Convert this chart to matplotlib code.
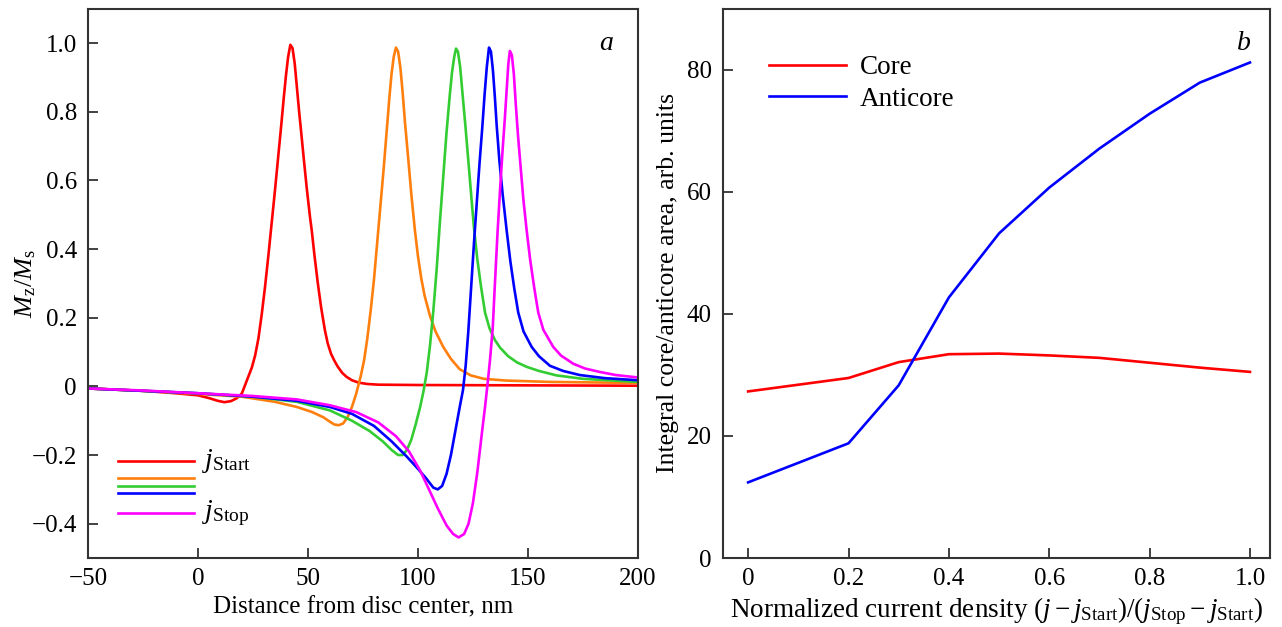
import matplotlib
matplotlib.use("Agg")
import matplotlib.pyplot as plt

plt.rcParams['font.family'] = ['Liberation Serif', 'DejaVu Serif']
plt.rcParams['mathtext.fontset'] = 'custom'
plt.rcParams['mathtext.rm'] = 'Liberation Serif'
plt.rcParams['mathtext.it'] = 'Liberation Serif:italic'

# ---- panel a: Mz/Ms profiles vs distance (nm) ----
red_x = [-50, -25, -10, 0, 5, 9, 12, 15, 17.5, 19, 20, 21.5, 23, 24.5, 26, 27.5, 29, 30.5, 32,
         33.5, 35, 36.5, 38, 39, 40, 41, 42, 43, 44, 45, 46, 46.8, 48, 49.5, 51, 51.7, 53, 54.5,
         56, 57.7, 59, 60.5, 62, 63.5, 65.5, 67.5, 70, 73, 77, 82, 100, 150, 200]
red_y = [-0.006, -0.013, -0.02, -0.026, -0.034, -0.042, -0.046, -0.043, -0.035, -0.027, -0.02,
         0.005, 0.03, 0.055, 0.09, 0.14, 0.21, 0.29, 0.38, 0.475, 0.57, 0.67, 0.77, 0.84, 0.905,
         0.96, 0.995, 0.985, 0.94, 0.87, 0.8, 0.749, 0.67, 0.575, 0.49, 0.456, 0.38, 0.3, 0.23,
         0.164, 0.125, 0.095, 0.075, 0.058, 0.04, 0.028, 0.018, 0.011, 0.007, 0.005, 0.004,
         0.003, 0.002]

orange_x = [-50, -25, 0, 20, 35, 45, 52, 57, 60, 62, 64, 66, 68, 70, 72, 74, 75.5, 77, 78.5, 80,
            81.5, 83, 84.5, 86, 87, 88, 89, 90, 91, 92, 93, 94.1, 95.5, 97, 98.6, 100, 101.5, 103,
            105.5, 108, 111.5, 115, 119, 124, 130, 140, 160, 200]
orange_y = [-0.006, -0.013, -0.022, -0.03, -0.045, -0.06, -0.075, -0.09, -0.103, -0.111, -0.113,
            -0.108, -0.09, -0.06, -0.02, 0.03, 0.075, 0.14, 0.22, 0.31, 0.42, 0.53, 0.64, 0.76,
            0.84, 0.91, 0.96, 0.987, 0.975, 0.93, 0.86, 0.77, 0.67, 0.56, 0.456, 0.38, 0.315,
            0.265, 0.205, 0.16, 0.115, 0.08, 0.05, 0.032, 0.022, 0.017, 0.013, 0.01]

green_x = [-50, -25, 0, 25, 45, 60, 70, 78, 84, 88, 91, 93, 95, 97, 99, 101, 102.5, 104, 105.5,
           107, 108.5, 110, 111.5, 113, 114.5, 115.5, 116.5, 117.3, 118.2, 119.2, 120.3, 121.7,
           123, 124.3, 125.5, 127, 128.7, 130.5, 132.5, 135, 137.3, 141, 145, 149.4, 155, 163,
           175, 200]
green_y = [-0.006, -0.013, -0.02, -0.03, -0.045, -0.07, -0.1, -0.13, -0.16, -0.185, -0.2, -0.2,
           -0.185, -0.155, -0.11, -0.06, -0.015, 0.04, 0.12, 0.22, 0.34, 0.48, 0.61, 0.74, 0.85,
           0.915, 0.96, 0.984, 0.975, 0.93, 0.85, 0.75, 0.65, 0.55, 0.46, 0.37, 0.29, 0.215,
           0.17, 0.135, 0.113, 0.088, 0.07, 0.057, 0.045, 0.032, 0.022, 0.013]

blue_x = [-50, -25, 0, 25, 45, 60, 70, 80, 88, 95, 100, 104, 107, 109, 111, 113, 115, 117, 119,
          120.5, 121.7, 122.9, 124.2, 125.5, 126.8, 128, 129.2, 130.3, 131.3, 132.3, 133.2,
          134.1, 135, 135.8, 137, 138.5, 140.3, 142, 143.8, 145.6, 148, 151.7, 155, 160, 166,
          173.6, 185, 200]
blue_y = [-0.006, -0.013, -0.02, -0.03, -0.042, -0.06, -0.08, -0.115, -0.16, -0.205, -0.24,
          -0.27, -0.295, -0.3, -0.29, -0.255, -0.2, -0.13, -0.06, -0.01, 0.06, 0.16, 0.29, 0.42,
          0.54, 0.65, 0.75, 0.85, 0.93, 0.987, 0.975, 0.92, 0.84, 0.76, 0.66, 0.56, 0.456, 0.365,
          0.285, 0.215, 0.16, 0.115, 0.088, 0.06, 0.045, 0.033, 0.024, 0.018]

magenta_x = [-50, -25, 0, 25, 45, 60, 72, 82, 90, 96, 101, 105, 109, 113, 116, 118.5, 121, 123,
             125, 127, 129, 130.5, 131.7, 132.8, 134, 135, 136.2, 137.4, 138.5, 139.5, 140.4,
             141.1, 141.8, 142.7, 143.6, 144.5, 145.5, 146.8, 148, 149.4, 151, 152.8, 154.7,
             157, 161.5, 165, 170.6, 176, 182.7, 190, 200]
magenta_y = [-0.006, -0.012, -0.02, -0.028, -0.038, -0.055, -0.075, -0.105, -0.145, -0.19,
             -0.245, -0.3, -0.355, -0.405, -0.43, -0.44, -0.43, -0.4, -0.34, -0.25, -0.14, -0.06,
             0.01, 0.08, 0.17, 0.3, 0.45, 0.58, 0.69, 0.78, 0.87, 0.94, 0.977, 0.965, 0.91, 0.82,
             0.73, 0.63, 0.54, 0.456, 0.37, 0.29, 0.215, 0.165, 0.115, 0.09, 0.066, 0.052, 0.042,
             0.033, 0.026]

# ---- panel b: integral core / anticore area ----
core_x = [0, 0.2, 0.3, 0.4, 0.5, 0.6, 0.7, 0.8, 0.9, 1.0]
core_y = [27.3, 29.5, 32.1, 33.4, 33.5, 33.2, 32.8, 32.0, 31.2, 30.5]
anti_x = [0, 0.2, 0.3, 0.4, 0.5, 0.6, 0.7, 0.8, 0.9, 1.0]
anti_y = [12.4, 18.8, 28.3, 42.7, 53.2, 60.7, 67.1, 72.8, 77.9, 81.2]

fig = plt.figure(figsize=(12.82, 6.27), dpi=100)
ax1 = fig.add_axes([0.0686, 0.110, 0.429, 0.876])
ax2 = fig.add_axes([0.564, 0.110, 0.4267, 0.876])

FS = 18
lw = 1.9
series = [(red_x, red_y, '#ff0000'), (orange_x, orange_y, '#ff7f0e'),
          (green_x, green_y, '#33cc33'), (blue_x, blue_y, '#0000ff'),
          (magenta_x, magenta_y, '#ff00ff')]
for xs, ys, c in series:
    ax1.plot(xs, ys, color=c, lw=lw)

ax1.set_xlim(-50, 200)
ax1.set_ylim(-0.5, 1.1)
ax1.set_xticks([-50, 0, 50, 100, 150, 200])
ax1.set_xticklabels(['\u221250', '0', '50', '100', '150', '200'])
ax1.set_yticks([-0.4, -0.2, 0, 0.2, 0.4, 0.6, 0.8, 1.0])
ax1.set_yticklabels(['\u22120.4', '\u22120.2', '0', '0.2', '0.4', '0.6', '0.8', '1.0'])
ax1.set_xlabel('Distance from disc center, nm', fontsize=FS, labelpad=5)
ax1.set_ylabel(r'$M_\mathrm{z}/M_\mathrm{s}$', fontsize=FS + 1, labelpad=-5)
ax1.text(0.93, 0.925, 'a', transform=ax1.transAxes, fontsize=FS + 2, style='italic')

# hand-placed legend, spacing is uneven in the original
leg_y = [0.1767, 0.1457, 0.131, 0.118, 0.082]
for (xs, ys, c), yy in zip(series, leg_y):
    ax1.plot([0.0545, 0.193], [yy, yy], color=c, lw=lw, transform=ax1.transAxes)
ax1.text(0.208, 0.1767, r'$j_\mathrm{Start}$', transform=ax1.transAxes, fontsize=FS + 2,
         va='center')
ax1.text(0.208, 0.082, r'$j_\mathrm{Stop}$', transform=ax1.transAxes, fontsize=FS + 2,
         va='center')

ax2.plot(core_x, core_y, color='#ff0000', lw=lw, label='Core')
ax2.plot(anti_x, anti_y, color='#0000ff', lw=lw, label='Anticore')
ax2.set_xlim(-0.05, 1.04)
ax2.set_ylim(0, 90)
ax2.set_xticks([0, 0.2, 0.4, 0.6, 0.8, 1.0])
ax2.set_xticklabels(['0', '0.2', '0.4', '0.6', '0.8', '1.0'])
ax2.set_yticks([0, 20, 40, 60, 80])
ax2.set_xlabel(r'Normalized current density $(j - j_\mathrm{Start})/(j_\mathrm{Stop} - j_\mathrm{Start})$',
               fontsize=FS + 1.5, labelpad=4)
ax2.set_ylabel('Integral core/anticore area, arb. units', fontsize=FS + 0.5, labelpad=6)
ax2.text(0.94, 0.925, 'b', transform=ax2.transAxes, fontsize=FS + 2, style='italic')
ax2.legend(loc='upper left', bbox_to_anchor=(0.04, 0.96), frameon=False, fontsize=FS + 1.5,
           handlelength=2.85, handletextpad=0.5, labelspacing=0.25)

for ax in (ax1, ax2):
    for s in ax.spines.values():
        s.set_color('#333333')
        s.set_linewidth(1.5)
    ax.tick_params(direction='in', length=7, width=1.3, labelsize=FS, color='#333333',
                   top=False, right=False)
    ax.tick_params(axis='y', pad=8)
    ax.tick_params(axis='x', pad=7)

fig.savefig('out.png', dpi=100)
